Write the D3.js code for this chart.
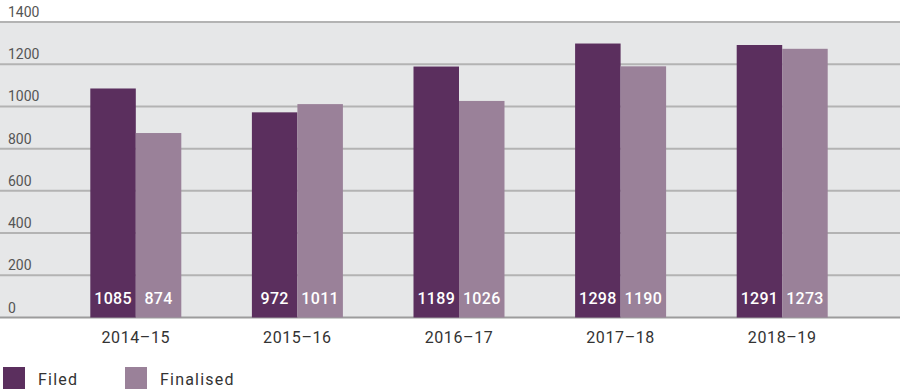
<!DOCTYPE html>
<html>
<head>
<meta charset="utf-8">
<script src="https://cdn.jsdelivr.net/npm/d3@7"></script>
<style>
  body { margin: 0; background: #fff; }
  text { font-family: Roboto, "DejaVu Sans", sans-serif; }
</style>
</head>
<body>
<svg id="chart" width="900" height="392"></svg>
<script>
let years = ["2014–15", "2015–16", "2016–17", "2017–18", "2018–19"],
    filed = [1085, 972, 1189, 1298, 1291],
    finalised = [874, 1011, 1026, 1190, 1273],
    yTicks = [0, 200, 400, 600, 800, 1000, 1200, 1400];

let seriesNames = ["Filed", "Finalised"],
    colours = ["#5b2f5e", "#9a8199"];

let svg = d3.select("#chart"),
    plotTop = 22, plotBottom = 317.5;

let x = d3.scaleBand().domain(years).range([55, 863]),
    x1 = d3.scaleBand().domain(seriesNames).range([0, 91]),
    y = d3.scaleLinear().domain([0, 1400]).range([plotBottom, plotTop]);

// grey plot background
svg.append("rect")
    .attr("x", 0).attr("y", y(1400))
    .attr("width", 900).attr("height", y(0) - y(1400))
    .attr("fill", "#e6e7e8");

// gridlines + tick labels
svg.append("g")
    .selectAll("line")
    .data(yTicks)
    .enter().append("line")
    .attr("x1", 0).attr("x2", 900)
    .attr("y1", d => y(d)).attr("y2", d => y(d))
    .attr("stroke", d => d === 0 ? "#9c9c9c" : "#b3b3b3")
    .attr("stroke-width", 2);

svg.append("g")
    .selectAll("text")
    .data(yTicks)
    .enter().append("text")
    .attr("x", 8)
    .attr("y", d => y(d) - 5)
    .attr("fill", "#555")
    .attr("font-size", "14px")
    .text(d => d);

// bars
let rows = years.map((yr, i) => ({ year: yr, values: [filed[i], finalised[i]] }));

let groups = svg.selectAll(".grp")
    .data(rows)
    .enter().append("g")
    .attr("class", "grp")
    .attr("transform", d => "translate(" + (x(d.year) + x.bandwidth() / 2 - 45.5) + ",0)");

groups.selectAll("rect")
    .data(d => d.values.map((v, j) => ({ name: seriesNames[j], value: v, c: colours[j] })))
    .enter().append("rect")
    .attr("x", d => x1(d.name))
    .attr("y", d => y(d.value))
    .attr("width", x1.bandwidth())
    .attr("height", d => y(0) - y(d.value))
    .attr("fill", d => d.c);

groups.selectAll(".val")
    .data(d => d.values.map((v, j) => ({ name: seriesNames[j], value: v })))
    .enter().append("text")
    .attr("class", "val")
    .attr("x", d => x1(d.name) + x1.bandwidth() / 2)
    .attr("y", 304)
    .attr("text-anchor", "middle")
    .attr("fill", "#fff")
    .attr("font-size", "16px")
    .attr("font-weight", 500)
    .attr("letter-spacing", "0.3px")
    .text(d => d.value);

// x labels
svg.append("g")
    .selectAll("text")
    .data(years)
    .enter().append("text")
    .attr("x", d => x(d) + x.bandwidth() / 2)
    .attr("y", 343)
    .attr("text-anchor", "middle")
    .attr("fill", "#333")
    .attr("font-size", "16px")
    .attr("letter-spacing", "0.6px")
    .text(d => d);

// legend
let legendX = [3, 125];
let legend = svg.selectAll(".leg")
    .data(seriesNames)
    .enter().append("g")
    .attr("class", "leg")
    .attr("transform", (d, i) => "translate(" + legendX[i] + ",367)");

legend.append("rect")
    .attr("width", 22).attr("height", 22)
    .attr("fill", (d, i) => colours[i]);

legend.append("text")
    .attr("x", 35).attr("y", 18)
    .attr("fill", "#333")
    .attr("font-size", "16px")
    .attr("letter-spacing", "1.2px")
    .text(d => d);
</script>
</body>
</html>
